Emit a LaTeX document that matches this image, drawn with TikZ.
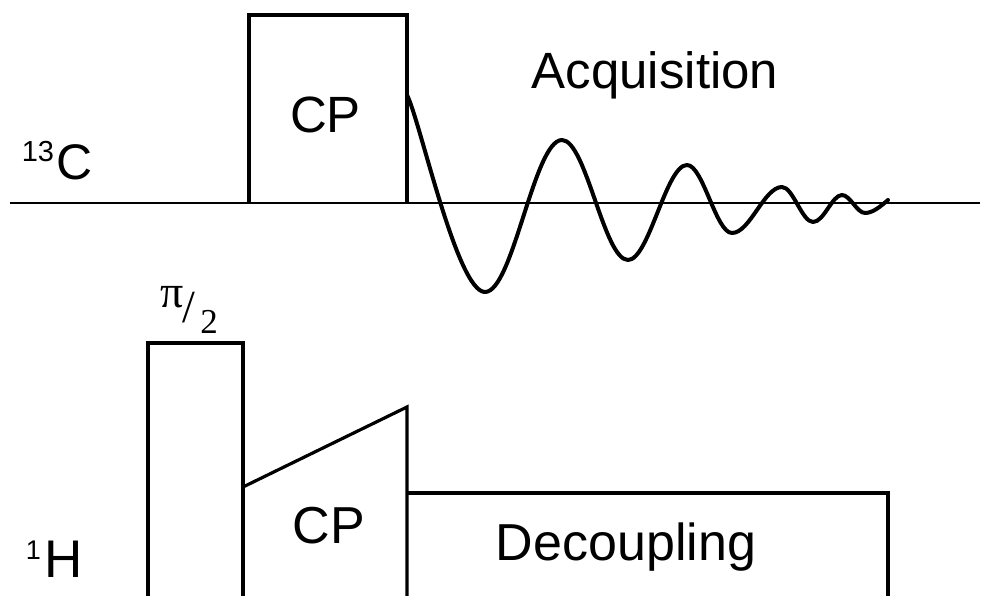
\documentclass[tikz,border=0pt]{standalone}
\usepackage{fontspec}
\setmainfont{Liberation Sans}
\newfontfamily\seriffont{Liberation Serif}
\begin{document}
\begin{tikzpicture}[x=1pt,y=-1pt,
  pulse/.style={line width=3.2pt, line join=miter},
  baseln/.style={line width=2pt},
  fid/.style={line width=4pt, line cap=round, line join=round},
  lbl/.style={inner sep=0pt, outer sep=0pt, anchor=base},
  big/.style={font=\fontsize{51}{60}\selectfont},
  sup/.style={font=\fontsize{29}{34}\selectfont}]
\useasboundingbox (0,0) rectangle (982,596);
% 13C channel
\coordinate (cL) at (10,203);
\coordinate (cR) at (980,203);
\draw[baseln] (cL) -- (cR);
\draw[pulse] (249,203) -- (249,15) -- (407,15) -- (407,203);
% FID
\draw[fid] (407,95) .. controls (420,120) and (457,292) .. (485,292)
  .. controls (513,292) and (534,140) .. (562,140)
  .. controls (586,140) and (604,260) .. (628,260)
  .. controls (649,260) and (666,165) .. (687,165)
  .. controls (703,165) and (716,233) .. (732,233)
  .. controls (750,233) and (764,187) .. (782,187)
  .. controls (793,187) and (802,222) .. (813,222)
  .. controls (824,222) and (832,195) .. (842,195)
  .. controls (850,195) and (857,213) .. (865,213)
  .. controls (873,213) and (881,206) .. (888,200);
\node[lbl,big] (acq) at (655,89) {Acquisition};
\node[lbl,big] (cpc) at (325.5,133) {CP};
\node[lbl,font=\fontsize{50}{60}\selectfont] (cC) at (74.5,180) {C};
\node[lbl,sup] (c13) at (38,162) {13};
% 1H channel
\draw[pulse] (148,596) -- (148,343) -- (243,343) -- (243,596);
\draw[pulse] (243,487) -- (407,407) -- (407,596);
\draw[pulse] (407,493) -- (888,493) -- (888,596);
\node[lbl,font=\fontsize{52}{60}\selectfont] (cph) at (329,543) {CP};
\node[lbl,font=\fontsize{52}{60}\selectfont] (dec) at (626,560) {Decoupling};
\node[lbl,font=\fontsize{53}{60}\selectfont] (hH) at (64,577) {H};
\node[lbl,font=\fontsize{27}{32}\selectfont] (h1) at (33.5,559) {1};
% pi/2
\node[lbl,font=\seriffont\fontsize{46}{50}\selectfont] (pi) at (172.5,307) {π};
\node[lbl,font=\seriffont\fontsize{46}{50}\selectfont] (sl) at (189,322) {/};
\node[lbl,font=\seriffont\fontsize{35}{40}\selectfont] (two) at (209,333) {2};
\end{tikzpicture}
\end{document}
